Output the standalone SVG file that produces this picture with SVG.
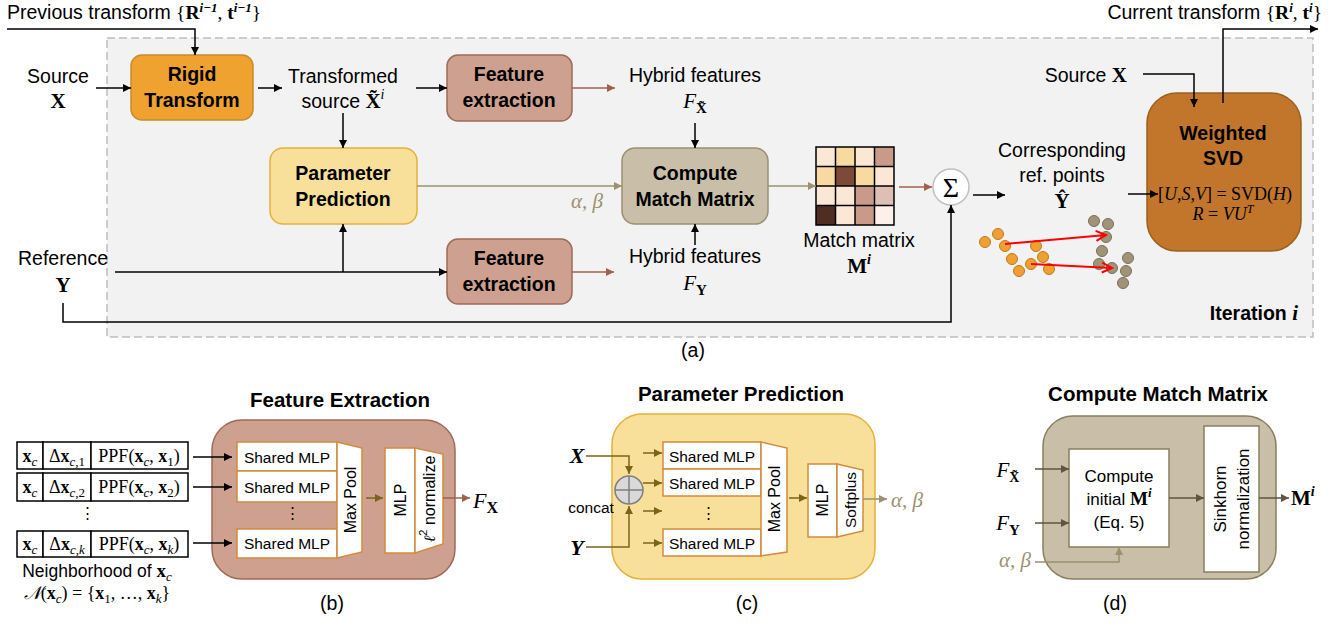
<svg xmlns="http://www.w3.org/2000/svg" width="1341" height="623" viewBox="0 0 1341 623" font-size="19.5">
<style>
.t{font-family:"Liberation Sans",Arial,sans-serif;fill:#000}
.b{font-weight:bold}
.m{font-family:"Liberation Serif","DejaVu Serif",serif}
.c{text-anchor:middle}
.sm{font-size:15.5px}
.ln{fill:none;stroke:#000;stroke-width:1.5}
.br{fill:none;stroke:#A0604C;stroke-width:1.5}
.tn{fill:none;stroke:#9C9070;stroke-width:1.5}
.ol{fill:none;stroke:#7A6418;stroke-width:1.5}
.dk{fill:none;stroke:#5E5540;stroke-width:1.5}
.box-or{fill:#EFA22F;stroke:#C98A2A;stroke-width:1.5}
.box-fe{fill:#CDA08F;stroke:#9E6A5A;stroke-width:1.5}
.box-pp{fill:#F8E09A;stroke:#E2B33A;stroke-width:1.5}
.box-cm{fill:#C9BFA9;stroke:#9C9070;stroke-width:1.5}
.box-svd{fill:#C1762B;stroke:#99611F;stroke-width:1.5}
.wb{fill:#fff;stroke:#D38A3C;stroke-width:1.5}
.wd{fill:#fff;stroke:#8A7E60;stroke-width:1.5}
.cell{fill:#fff;stroke:#000;stroke-width:1.5}
.po{fill:#F0A030;stroke:#C07A20;stroke-width:1}
.pg{fill:#A09478;stroke:#7A6E58;stroke-width:1}
</style>
<defs>
<marker id="ak" viewBox="0 0 10 10" refX="10" refY="5" markerWidth="9" markerHeight="8" markerUnits="userSpaceOnUse" orient="auto"><path d="M0,0 L10,5 L0,10 z" fill="#000"/></marker>
<marker id="abr" viewBox="0 0 10 10" refX="10" refY="5" markerWidth="9" markerHeight="8" markerUnits="userSpaceOnUse" orient="auto"><path d="M0,0 L10,5 L0,10 z" fill="#A0604C"/></marker>
<marker id="atn" viewBox="0 0 10 10" refX="10" refY="5" markerWidth="9" markerHeight="8" markerUnits="userSpaceOnUse" orient="auto"><path d="M0,0 L10,5 L0,10 z" fill="#9C9070"/></marker>
<marker id="aol" viewBox="0 0 10 10" refX="10" refY="5" markerWidth="9" markerHeight="8" markerUnits="userSpaceOnUse" orient="auto"><path d="M0,0 L10,5 L0,10 z" fill="#7A6418"/></marker>
<marker id="adk" viewBox="0 0 10 10" refX="10" refY="5" markerWidth="9" markerHeight="8" markerUnits="userSpaceOnUse" orient="auto"><path d="M0,0 L10,5 L0,10 z" fill="#5E5540"/></marker>
<marker id="ared" viewBox="0 0 12 12" refX="11" refY="6" markerWidth="14" markerHeight="12" markerUnits="userSpaceOnUse" orient="auto"><path d="M1,1 L11,6 L1,11" fill="none" stroke="#FF0000" stroke-width="2"/></marker>
</defs>

<rect id="iteration-frame" x="107" y="38" width="1206" height="299" fill="#F2F2F2" stroke="#BFBFBF" stroke-width="1.5" stroke-dasharray="8 4"/>

<g id="prev-transform">
<text x="7" y="19" class="t">Previous transform <tspan class="m">{<tspan font-weight="bold">R</tspan><tspan dy="-7" font-size="13" font-weight="bold" font-style="italic">i−1</tspan><tspan dy="7">, </tspan><tspan font-weight="bold">t</tspan><tspan dy="-7" font-size="13" font-weight="bold" font-style="italic">i−1</tspan><tspan dy="7">}</tspan></tspan></text>
</g>
<g id="cur-transform">
<text x="1322" y="19" class="t" text-anchor="end">Current transform <tspan class="m">{<tspan font-weight="bold">R</tspan><tspan dy="-7" font-size="13" font-weight="bold" font-style="italic">i</tspan><tspan dy="7">, </tspan><tspan font-weight="bold">t</tspan><tspan dy="-7" font-size="13" font-weight="bold" font-style="italic">i</tspan><tspan dy="7">}</tspan></tspan></text>
</g>
<g id="source">
<text x="58" y="83" class="t c">Source</text>
<text x="58" y="108" class="t c m b" font-size="21">X</text>
</g>
<g id="source2">
<text x="1127" y="82" class="t" text-anchor="end">Source <tspan class="m b" font-size="21">X</tspan></text>
</g>
<g id="reference">
<text x="63" y="265" class="t c">Reference</text>
<text x="63" y="292" class="t c m b" font-size="21">Y</text>
</g>

<g id="rigid-transform">
<rect class="box-or" x="131" y="55" width="122" height="65" rx="11"/>
<text x="192" y="81" class="t c b">Rigid</text>
<text x="192" y="107" class="t c b">Transform</text>
</g>

<g id="transformed-source">
<text x="343" y="83" class="t c">Transformed</text>
<text x="343" y="108" class="t c">source <tspan class="m b" font-size="21">X̃</tspan><tspan class="m" font-style="italic" font-size="14" dy="-9">i</tspan></text>
</g>

<g id="feature-extraction-1">
<rect class="box-fe" x="447" y="55" width="125" height="66" rx="11"/>
<text x="509" y="81" class="t c b">Feature</text>
<text x="509" y="107" class="t c b">extraction</text>
</g>

<g id="hybrid-x">
<text x="695" y="82" class="t c">Hybrid features</text>
<text x="695" y="108" class="t c m"><tspan font-style="italic" font-size="21">F</tspan><tspan dy="5" font-size="15" font-weight="bold">X̃</tspan></text>
</g>

<g id="parameter-prediction">
<rect class="box-pp" x="270" y="148" width="147" height="76" rx="13"/>
<text x="343" y="180" class="t c b">Parameter</text>
<text x="343" y="206" class="t c b">Prediction</text>
</g>
<text x="587" y="208" class="t c m" font-style="italic" font-size="21" style="fill:#9C9070">α, β</text>

<g id="compute-match-matrix">
<rect class="box-cm" x="622" y="148" width="146" height="76" rx="13"/>
<text x="695" y="180" class="t c b">Compute</text>
<text x="695" y="206" class="t c b">Match Matrix</text>
</g>

<g id="feature-extraction-2">
<rect class="box-fe" x="447" y="239" width="125" height="65" rx="11"/>
<text x="509" y="265" class="t c b">Feature</text>
<text x="509" y="291" class="t c b">extraction</text>
</g>

<g id="hybrid-y">
<text x="695" y="263" class="t c">Hybrid features</text>
<text x="695" y="290" class="t c m"><tspan font-style="italic" font-size="21">F</tspan><tspan dy="5" font-size="15" font-weight="bold">Y</tspan></text>
</g>

<g id="match-matrix">
<rect x="816" y="147" width="19.5" height="19.5" fill="#FBE8D4"/>
<rect x="835.5" y="147" width="19.5" height="19.5" fill="#F8D9A0"/>
<rect x="855" y="147" width="19.5" height="19.5" fill="#FBE8D4"/>
<rect x="874.5" y="147" width="19.5" height="19.5" fill="#C9998A"/>
<rect x="816" y="166.5" width="19.5" height="19.5" fill="#F8D9A0"/>
<rect x="835.5" y="166.5" width="19.5" height="19.5" fill="#7D4A38"/>
<rect x="855" y="166.5" width="19.5" height="19.5" fill="#F8D9A0"/>
<rect x="874.5" y="166.5" width="19.5" height="19.5" fill="#FBE8D4"/>
<rect x="816" y="186" width="19.5" height="19.5" fill="#FBE8D4"/>
<rect x="835.5" y="186" width="19.5" height="19.5" fill="#FBE8D4"/>
<rect x="855" y="186" width="19.5" height="19.5" fill="#C9998A"/>
<rect x="874.5" y="186" width="19.5" height="19.5" fill="#DDBFB4"/>
<rect x="816" y="205.5" width="19.5" height="19.5" fill="#4F2E22"/>
<rect x="835.5" y="205.5" width="19.5" height="19.5" fill="#FBE8D4"/>
<rect x="855" y="205.5" width="19.5" height="19.5" fill="#C9998A"/>
<rect x="874.5" y="205.5" width="19.5" height="19.5" fill="#FDF0EA"/>
<path d="M816,147 H894 V225 H816 Z M835.5,147 V225 M855,147 V225 M874.5,147 V225 M816,166.5 H894 M816,186 H894 M816,205.5 H894" fill="none" stroke="#000" stroke-width="1.5"/>
<text x="859" y="247" class="t c">Match matrix</text>
<text x="859" y="273" class="t c m"><tspan font-weight="bold" font-size="21">M</tspan><tspan dy="-9" font-size="14" font-weight="bold" font-style="italic">i</tspan></text>
</g>

<g id="sum">
<circle cx="951" cy="187" r="18" fill="#fff" stroke="#BFBFBF" stroke-width="1.5"/>
<text x="951" y="197" class="t c m" font-size="28">Σ</text>
</g>

<g id="corresponding">
<text x="1062" y="157" class="t c">Corresponding</text>
<text x="1062" y="182" class="t c">ref. points</text>
<text x="1062" y="208" class="t c m b" font-size="21">Ŷ</text>
</g>

<g id="weighted-svd">
<rect class="box-svd" x="1147" y="93" width="154" height="158" rx="30"/>
<text x="1223" y="140" class="t c b">Weighted</text>
<text x="1223" y="165" class="t c b">SVD</text>
<text x="1225" y="200" class="t c m" font-size="18">[<tspan font-style="italic">U</tspan>,<tspan font-style="italic">S</tspan>,<tspan font-style="italic">V</tspan>] = SVD(<tspan font-style="italic">H</tspan>)</text>
<text x="1223" y="220" class="t c m" font-size="18"><tspan font-style="italic">R</tspan> = <tspan font-style="italic">VU</tspan><tspan dy="-7" font-size="12" font-style="italic">T</tspan></text>
</g>

<g id="point-clouds">
<circle class="po" cx="985" cy="242" r="5.5"/>
<circle class="po" cx="998" cy="234" r="5.5"/>
<circle class="po" cx="1005" cy="246" r="5.5"/>
<circle class="po" cx="1036" cy="246" r="5.5"/>
<circle class="po" cx="1012" cy="259" r="5.5"/>
<circle class="po" cx="1043" cy="257" r="5.5"/>
<circle class="po" cx="1031" cy="264" r="5.5"/>
<circle class="po" cx="1019" cy="271" r="5.5"/>
<circle class="po" cx="1049" cy="269" r="5.5"/>
<circle class="pg" cx="1094" cy="221" r="5.5"/>
<circle class="pg" cx="1108" cy="224" r="5.5"/>
<circle class="pg" cx="1106" cy="237" r="5.5"/>
<circle class="pg" cx="1102" cy="251" r="5.5"/>
<circle class="pg" cx="1099" cy="264" r="5.5"/>
<circle class="pg" cx="1112" cy="268" r="5.5"/>
<circle class="pg" cx="1128" cy="258" r="5.5"/>
<circle class="pg" cx="1126" cy="271" r="5.5"/>
<circle class="pg" cx="1123" cy="283" r="5.5"/>
</g>

<text x="1298" y="320" class="t b" text-anchor="end">Iteration <tspan class="m" font-style="italic" font-size="21">i</tspan></text>
<text x="693" y="357" class="t c">(a)</text>

<!-- (b) Feature Extraction -->
<g id="panel-b">
<text x="340" y="407" class="t c b" font-size="20.5">Feature Extraction</text>
<rect class="box-fe" x="212" y="420" width="243" height="159" rx="30"/>
<g id="table">
<rect class="cell" x="17" y="442" width="26" height="27"/><rect class="cell" x="43" y="442" width="48" height="27"/><rect class="cell" x="91" y="442" width="97" height="27"/>
<rect class="cell" x="17" y="473" width="26" height="28"/><rect class="cell" x="43" y="473" width="48" height="28"/><rect class="cell" x="91" y="473" width="97" height="28"/>
<rect class="cell" x="17" y="531" width="26" height="26"/><rect class="cell" x="43" y="531" width="48" height="26"/><rect class="cell" x="91" y="531" width="97" height="26"/>
<text x="30" y="462" class="t c m" font-size="18"><tspan font-weight="bold">x</tspan><tspan dy="4" font-size="13" font-style="italic">c</tspan></text>
<text x="67" y="462" class="t c m" font-size="18">Δ<tspan font-weight="bold">x</tspan><tspan dy="4" font-size="13"><tspan font-style="italic">c</tspan>,1</tspan></text>
<text x="139" y="462" class="t c m" font-size="18">PPF(<tspan font-weight="bold">x</tspan><tspan dy="4" font-size="13" font-style="italic">c</tspan><tspan dy="-4">, </tspan><tspan font-weight="bold">x</tspan><tspan dy="4" font-size="13">1</tspan><tspan dy="-4">)</tspan></text>
<text x="30" y="493" class="t c m" font-size="18"><tspan font-weight="bold">x</tspan><tspan dy="4" font-size="13" font-style="italic">c</tspan></text>
<text x="67" y="493" class="t c m" font-size="18">Δ<tspan font-weight="bold">x</tspan><tspan dy="4" font-size="13"><tspan font-style="italic">c</tspan>,2</tspan></text>
<text x="139" y="493" class="t c m" font-size="18">PPF(<tspan font-weight="bold">x</tspan><tspan dy="4" font-size="13" font-style="italic">c</tspan><tspan dy="-4">, </tspan><tspan font-weight="bold">x</tspan><tspan dy="4" font-size="13">2</tspan><tspan dy="-4">)</tspan></text>
<text x="30" y="550" class="t c m" font-size="18"><tspan font-weight="bold">x</tspan><tspan dy="4" font-size="13" font-style="italic">c</tspan></text>
<text x="67" y="550" class="t c m" font-size="18">Δ<tspan font-weight="bold">x</tspan><tspan dy="4" font-size="13"><tspan font-style="italic">c</tspan>,<tspan font-style="italic">k</tspan></tspan></text>
<text x="139" y="550" class="t c m" font-size="18">PPF(<tspan font-weight="bold">x</tspan><tspan dy="4" font-size="13" font-style="italic">c</tspan><tspan dy="-4">, </tspan><tspan font-weight="bold">x</tspan><tspan dy="4" font-size="13" font-style="italic">k</tspan><tspan dy="-4">)</tspan></text>
<text x="87" y="518" class="t c" font-size="15">⋮</text>
</g>
<text x="97" y="577" class="t c" font-size="17.5">Neighborhood of <tspan class="m" font-weight="bold" font-size="19">x</tspan><tspan class="m" dy="4" font-size="13" font-style="italic">c</tspan></text>
<text x="97" y="599" class="t c m" font-size="18"><tspan font-style="italic">𝒩</tspan>(<tspan font-weight="bold">x</tspan><tspan dy="4" font-size="13" font-style="italic">c</tspan><tspan dy="-4">) = {</tspan><tspan font-weight="bold">x</tspan><tspan dy="4" font-size="13">1</tspan><tspan dy="-4">, …, </tspan><tspan font-weight="bold">x</tspan><tspan dy="4" font-size="13" font-style="italic">k</tspan><tspan dy="-4">}</tspan></text>
<rect class="wb" x="237" y="442" width="100" height="29"/>
<rect class="wb" x="237" y="471" width="100" height="31"/>
<rect class="wb" x="237" y="529" width="100" height="29"/>
<text x="287" y="463" class="t c sm">Shared MLP</text>
<text x="287" y="493" class="t c sm">Shared MLP</text>
<text x="287" y="549" class="t c sm">Shared MLP</text>
<text x="292" y="518" class="t c" font-size="15">⋮</text>
<polygon class="wb" points="337,442 362,448 362,552 337,558"/>
<text transform="translate(350,500) rotate(-90)" x="0" y="0" class="t c" font-size="16" dominant-baseline="central">Max Pool</text>
<rect class="wb" x="385" y="448" width="30" height="105"/>
<text transform="translate(400,500) rotate(-90)" x="0" y="0" class="t c" font-size="16" dominant-baseline="central">MLP</text>
<polygon class="wb" points="415,448 443,454 443,544 415,553"/>
<text transform="translate(429,499) rotate(-90)" x="0" y="0" class="t c" font-size="16" dominant-baseline="central"><tspan class="m" font-style="italic">ℓ</tspan><tspan font-size="11" dy="-6">2</tspan><tspan dy="6"> normalize</tspan></text>
<text x="473" y="508" class="t m"><tspan font-style="italic" font-size="22">F</tspan><tspan dy="5" font-size="16" font-weight="bold">X</tspan></text>
<text x="332" y="610" class="t c">(b)</text>
</g>

<!-- (c) Parameter Prediction -->
<g id="panel-c">
<text x="741" y="401" class="t c b" font-size="20.5">Parameter Prediction</text>
<rect class="box-pp" x="612" y="414" width="263" height="165" rx="30"/>
<text x="577" y="463" class="t c m b" font-style="italic" font-size="22">X</text>
<text x="577" y="555" class="t c m b" font-style="italic" font-size="22">Y</text>
<text x="591" y="513" class="t c sm">concat</text>
<g id="concat-op">
<circle cx="629" cy="490" r="14" fill="#D9D9D9" stroke="#7F7F7F" stroke-width="1.5"/>
<path d="M615,490 H643 M629,476 V504" stroke="#7F7F7F" stroke-width="1.5"/>
</g>
<rect class="wb" x="663" y="442" width="98" height="27"/>
<rect class="wb" x="663" y="469" width="98" height="27"/>
<rect class="wb" x="663" y="529" width="98" height="27"/>
<text x="712" y="462" class="t c sm">Shared MLP</text>
<text x="712" y="489" class="t c sm">Shared MLP</text>
<text x="712" y="549" class="t c sm">Shared MLP</text>
<text x="708" y="518" class="t c" font-size="15">⋮</text>
<polygon class="wb" points="761,442 787,448 787,552 761,556"/>
<text transform="translate(774,499) rotate(-90)" x="0" y="0" class="t c" font-size="16" dominant-baseline="central">Max Pool</text>
<rect class="wb" x="808" y="464" width="29" height="73"/>
<text transform="translate(822,500) rotate(-90)" x="0" y="0" class="t c" font-size="16" dominant-baseline="central">MLP</text>
<polygon class="wb" points="837,464 863,470 863,531 837,537"/>
<text transform="translate(850,500) rotate(-90)" x="0" y="0" class="t c" font-size="15.5" dominant-baseline="central">Softplus</text>
<text x="891" y="507" class="t m" font-style="italic" font-size="21" style="fill:#9C9070">α, β</text>
<text x="747" y="610" class="t c">(c)</text>
</g>

<!-- (d) Compute Match Matrix -->
<g id="panel-d">
<text x="1158" y="401" class="t c b" font-size="20.5">Compute Match Matrix</text>
<rect x="1043" y="416" width="233" height="163" rx="30" fill="#C9BFA9" stroke="#8A7E60" stroke-width="1.5"/>
<rect class="wd" x="1069" y="449" width="100" height="98"/>
<text x="1119" y="482" class="t c" font-size="17">Compute</text>
<text x="1119" y="505" class="t c" font-size="17">initial <tspan class="m" font-weight="bold" font-size="19">M</tspan><tspan class="m" dy="-8" font-size="13" font-weight="bold" font-style="italic">i</tspan></text>
<text x="1119" y="528" class="t c" font-size="17">(Eq. 5)</text>
<rect class="wd" x="1204" y="426" width="55" height="146"/>
<text transform="translate(1231,499) rotate(-90)" x="0" y="-11" class="t c" font-size="17" dominant-baseline="central">Sinkhorn</text>
<text transform="translate(1231,499) rotate(-90)" x="0" y="12" class="t c" font-size="17" dominant-baseline="central">normalization</text>
<text x="1008" y="477" class="t c m"><tspan font-style="italic" font-size="21">F</tspan><tspan dy="5" font-size="14" font-weight="bold">X̃</tspan></text>
<text x="1008" y="530" class="t c m"><tspan font-style="italic" font-size="21">F</tspan><tspan dy="5" font-size="15" font-weight="bold">Y</tspan></text>
<text x="1015" y="567" class="t c m" font-style="italic" font-size="21" style="fill:#9C9070">α, β</text>
<text x="1291" y="505" class="t m"><tspan font-weight="bold" font-size="21">M</tspan><tspan dy="-9" font-size="14" font-weight="bold" font-style="italic">i</tspan></text>
<text x="1115" y="610" class="t c">(d)</text>
</g>

<g id="connectors">
<path class="ln" d="M7,29 H195 V55" marker-end="url(#ak)"/>
<path class="ln" d="M96,88 H131" marker-end="url(#ak)"/>
<path class="ln" d="M258,88 H282" marker-end="url(#ak)"/>
<path class="ln" d="M416,88 H447" marker-end="url(#ak)"/>
<path class="br" d="M572,88 H615" marker-end="url(#abr)"/>
<path class="ln" d="M695,123 V148" marker-end="url(#ak)"/>
<path class="ln" d="M343,113 V148" marker-end="url(#ak)"/>
<path class="tn" d="M417,186 H622" marker-end="url(#atn)"/>
<path class="tn" d="M768,186 H816" marker-end="url(#atn)"/>
<path class="br" d="M899,187 H932" marker-end="url(#abr)"/>
<path class="ln" d="M115,272 H447" marker-end="url(#ak)"/>
<path class="ln" d="M343,272 V224" marker-end="url(#ak)"/>
<path class="ln" d="M63,303 V322 H951 V205" marker-end="url(#ak)"/>
<path class="br" d="M572,272 H614" marker-end="url(#abr)"/>
<path class="ln" d="M695,245 V224" marker-end="url(#ak)"/>
<path class="ln" d="M973,195 H1005" marker-end="url(#ak)"/>
<path class="ln" d="M1128,194 H1158" marker-end="url(#ak)"/>
<path class="ln" d="M1143,74 H1194 V107" marker-end="url(#ak)"/>
<path class="ln" d="M1223,103 V29 H1318" marker-end="url(#ak)"/>
<path fill="none" stroke="#FF0000" stroke-width="2" d="M1005,244 L1106,235" marker-end="url(#ared)"/>
<path fill="none" stroke="#FF0000" stroke-width="2" d="M1031,264 L1112,268" marker-end="url(#ared)"/>
<path class="ln" d="M193,457 H232" marker-end="url(#ak)"/>
<path class="ln" d="M193,487 H232" marker-end="url(#ak)"/>
<path class="ln" d="M193,543 H232" marker-end="url(#ak)"/>
<path class="ol" d="M366,498 H383" marker-end="url(#aol)"/>
<path class="br" d="M443,498 H470" marker-end="url(#abr)"/>
<path class="ol" d="M586,456 H629 V474" marker-end="url(#aol)"/>
<path class="ol" d="M586,547 H629 V506" marker-end="url(#aol)"/>
<path class="ol" d="M643,453 H662" marker-end="url(#aol)"/>
<path class="ol" d="M643,483 H662" marker-end="url(#aol)"/>
<path class="ol" d="M643,511 H662" marker-end="url(#aol)"/>
<path class="ol" d="M643,543 H662" marker-end="url(#aol)"/>
<path class="ol" d="M789,498 H807" marker-end="url(#aol)"/>
<path class="tn" d="M863,499 H887" marker-end="url(#atn)"/>
<path class="dk" d="M1035,469 H1069" marker-end="url(#adk)"/>
<path class="dk" d="M1035,523 H1069" marker-end="url(#adk)"/>
<path class="dk" d="M1169,498 H1204" marker-end="url(#adk)"/>
<path class="dk" d="M1259,498 H1289" marker-end="url(#adk)"/>
<path class="tn" d="M1035,562 H1119 V547" marker-end="url(#atn)"/>
</g>
</svg>
